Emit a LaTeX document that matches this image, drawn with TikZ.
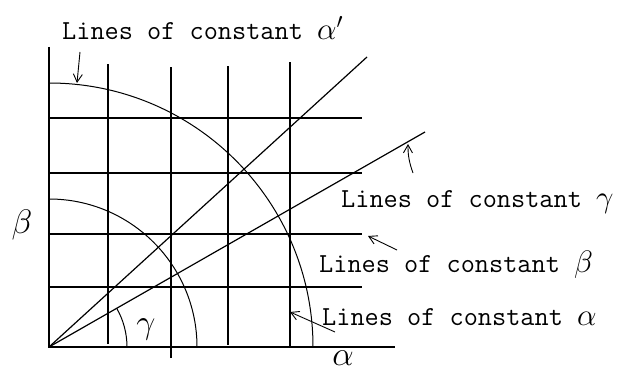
\RequirePackage{fix-cm}
\documentclass[tikz,border=0pt]{standalone}
\usepackage{fontspec}
\usetikzlibrary{arrows.meta}

\newcommand{\bigGreek}[1]{{\fontsize{31}{33}\selectfont$#1$}}

\begin{document}
\begin{tikzpicture}[
  x=1pt, y=1pt,
  gridline/.style={line width=1.2pt},
  curve/.style={line width=1pt},
  lbl/.style={font=\fontsize{27.5}{30}\selectfont\ttfamily,
              inner sep=0pt, anchor=base west},
  greek/.style={font=\fontsize{34}{36}\selectfont, inner sep=0pt},
  arr/.style={-{Straight Barb[length=8pt, width=9pt]}, line width=0.9pt}
]
\useasboundingbox (0,0) rectangle (622,373);
\coordinate (O) at (49,26);
\foreach \y in {255,200,139,86}
  \draw[gridline] (49,\y) -- (362,\y);
\foreach \x/\b/\t in {108/29/309, 171/15/306, 228/28/307, 290/26/311}
  \draw[gridline] (\x,\b) -- (\x,\t);
\draw[gridline] (49,326) |- (395,26);
\draw[curve] (49,290) arc[start angle=90, end angle=0, radius=264];
\draw[curve] (49,174) arc[start angle=90, end angle=0, radius=148];
\draw[gridline] (O) -- (367,316);
\draw[gridline] (O) -- (425,241);
\draw[curve] (127,26) arc[start angle=0, end angle=29.8, radius=78];

\node[greek] (gam)  at (146,44)  {$\gamma$};
\node[greek] (beta) at (22,148)  {$\beta$};
\node[greek] (alph) at (343,15)  {$\alpha$};

\node[lbl] (lblalphap) at (62,333)  {Lines of constant \bigGreek{\alpha'}};
\node[lbl] (lblgamma)  at (341,165) {Lines of constant \bigGreek{\gamma}};
\node[lbl] (lblbeta)   at (319,101) {Lines of constant \bigGreek{\beta}};
\node[lbl] (lblalpha)  at (322,48)  {Lines of constant \bigGreek{\alpha}};

\coordinate (arcpt)   at (77,290);
\coordinate (gampt)   at (408,229);
\coordinate (betapt)  at (368,137);
\coordinate (alphapt) at (290,61);
\draw[arr] ([shift={(18,-12)}]lblalphap.base west) -- (arcpt);
\draw[arr] ([shift={(72,35)}]lblgamma.base west) to[bend left=10] (gampt);
\draw[arr] ([shift={(78,22)}]lblbeta.base west) -- (betapt);
\draw[arr] ([shift={(13,-7)}]lblalpha.base west) -- (alphapt);
\end{tikzpicture}
\end{document}
